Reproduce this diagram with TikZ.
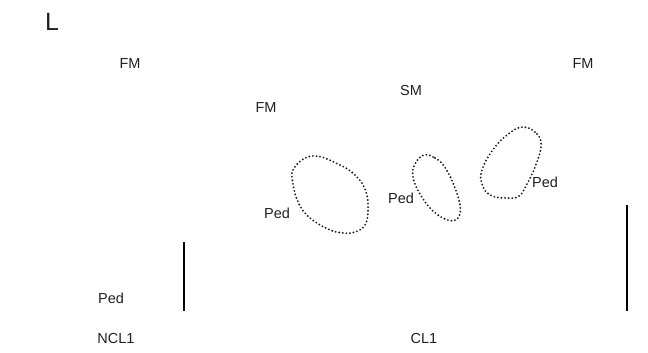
\documentclass[tikz,border=0pt]{standalone}
\usepackage{fontspec}
\setmainfont{Liberation Sans}
\usepackage{xcolor}
\usetikzlibrary{calc}
\definecolor{inkcolor}{HTML}{231F20}
\tikzstyle{lbl} =[
    text=inkcolor,
    font=\fontsize{14.5}{16}\selectfont,
    inner sep=0pt
    ]
\tikzstyle{panel} =[
    text=inkcolor,
    font=\fontsize{25}{28}\selectfont,
    inner sep=0pt
    ]
\tikzstyle{pedline} = [
    draw=inkcolor,
    line width=2.1pt,
    line cap=round,
    dash pattern=on 0pt off 3.6pt
    ]
\tikzstyle{scalebar} = [
    draw=black,
    line width=2pt
    ]

\begin{document}
\begin{tikzpicture}[x=1pt,y=-1pt]
\useasboundingbox (0,0) rectangle (648,353);
% panel letter
\node[panel] (panelL) at (52,22) {L};
% muscle labels
\node[lbl] (fmA) at (130,64) {FM};
\node[lbl] (fmB) at (266,108) {FM};
\node[lbl] (smA) at (411,91) {SM};
\node[lbl] (fmC) at (583,64) {FM};
% peduncle labels
\node[lbl] (pedA) at (111,298) {Ped};
\node[lbl] (pedB) at (277,213) {Ped};
\node[lbl] (pedC) at (401,198) {Ped};
\node[lbl] (pedD) at (545,182) {Ped};
% genotype labels
\node[lbl] (ncl) at (116,339) {NCL1};
\node[lbl] (cl) at (424,339) {CL1};
% dotted peduncle outlines
\draw[pedline] plot[smooth cycle, tension=0.7] coordinates {
    (313,156) (340,165) (357,177) (366,192) (368,210) (365,225)
    (355,232) (343,233) (328,229) (310,218) (299,204) (293,184) (294,168)};
\draw[pedline] plot[smooth cycle, tension=0.7] coordinates {
    (424,155) (435,158) (444,166) (453,183) (460,205) (458,218)
    (448,220) (433,211) (420,194) (413,177) (415,164)};
\draw[pedline] plot[smooth cycle, tension=0.7] coordinates {
    (523,127) (537,134) (541,147) (535,167) (527,184) (519,196)
    (506,198) (490,195) (482,184) (482,170) (492,151) (507,135)};
% scale bars
\coordinate (barAtop) at (184,242);
\coordinate (barAbot) at (184,311);
\coordinate (barBtop) at (627,205);
\coordinate (barBbot) at (627,311);
\draw[scalebar] (barAtop) -- (barAbot);
\draw[scalebar] (barBtop) -- (barBbot);
\end{tikzpicture}
\end{document}
